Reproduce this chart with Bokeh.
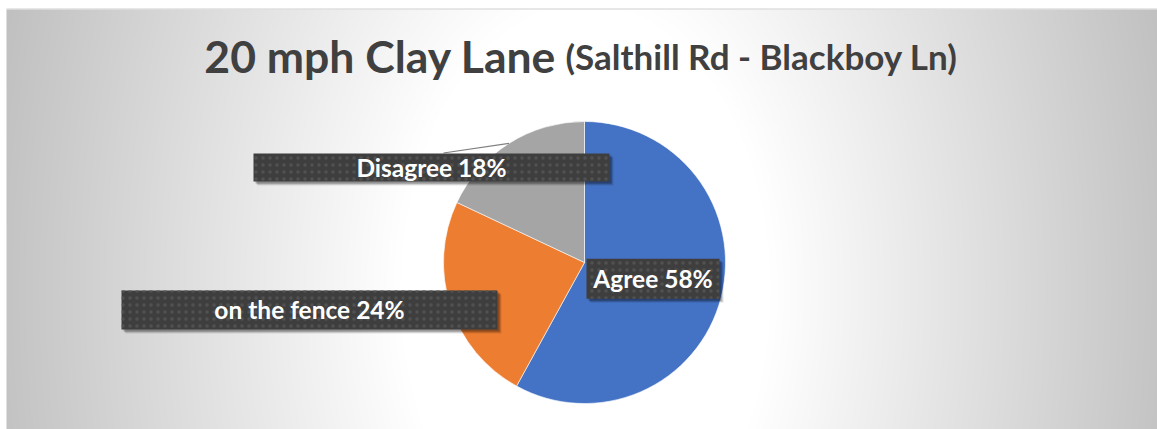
import numpy as np
from bokeh.plotting import figure
from bokeh.models import Range1d, ColumnDataSource
from bokeh.core.properties import value
from bokeh.embed import file_html
from bokeh.resources import INLINE

# ---- data ----
categories = ["Agree", "on the fence", "Disagree"]
percent = [58, 24, 18]
colors = ["#4472C4", "#ED7D31", "#A5A5A5"]
title_main = "20 mph Clay Lane"
title_sub = "(Salthill Rd - Blackboy Ln)"

# ---- layout (page pixel coords; data y = PAGE_H - page y) ----
W, H = 1157, 429
PAGE_H = 429

def py(y):
    return PAGE_H - y

p = figure(width=W, height=H, x_range=Range1d(0, W), y_range=Range1d(0, H),
           output_backend="svg", toolbar_location=None,
           x_axis_location=None, y_axis_location=None,
           min_border=0, outline_line_color=None)
p.grid.visible = False
p.background_fill_color = "white"
p.border_fill_color = "white"

# ---- background radial gradient (panel from page x=6, y=9) ----
PX0, PY0 = 6, 9
PW, PH = W - PX0, H - PY0
xs = np.arange(PW) + PX0 + 0.5
ys_page = PAGE_H - (np.arange(PH) + 0.5)   # row 0 = bottom
XX, YY = np.meshgrid(xs, ys_page)
r = np.hypot((XX - 585) / 580.0, (YY - 290) / 900.0)
t = np.clip((r - 0.32) / 0.68, 0, 1.12)
g = np.clip(255 - 59 * t, 0, 255).astype(np.uint8)
img = np.empty((PH, PW), dtype=np.uint32)
view = img.view(dtype=np.uint8).reshape((PH, PW, 4))
view[..., 0] = g
view[..., 1] = g
view[..., 2] = g
view[..., 3] = 255
p.image_rgba(image=[img], x=PX0, y=0, dw=PW, dh=PH)
p.line(x=[PX0, W], y=[py(8.5), py(8.5)], line_color="#cfcfcf", line_width=1)

# ---- pie ----
cx, cy, R = 584, py(262), 141
frac = np.array(percent, dtype=float) / sum(percent)
cum = np.concatenate([[0], np.cumsum(frac)])
start = np.pi / 2 - 2 * np.pi * cum[:-1]
end = np.pi / 2 - 2 * np.pi * cum[1:]
src = ColumnDataSource(dict(start=start, end=end, color=colors, cat=categories))
p.wedge(x=cx, y=cy, radius=R, start_angle="start", end_angle="end",
        direction="clock", fill_color="color", line_color="white",
        line_width=0.6, source=src)

# leader line for Disagree (from slice mid-angle on the rim to label box)
mid = (cum[2] + cum[3]) / 2
ang = np.pi / 2 - 2 * np.pi * mid
lx, ly = cx + R * np.cos(ang), cy + R * np.sin(ang)
p.line(x=[443, lx], y=[py(152.5), ly], line_color="#7f7f7f", line_width=1.2)

# ---- data labels ----
labels = [f"{c} {v}%" for c, v in zip(categories, percent)]
box_cx = [652.5, 309, 431]
box_cy = [py(278.3), py(309.5), py(167)]
box_w = [133, 376, 356]
box_h = [40, 39, 28]
LBL = 24.5
TSHIFT = 0.36  # baseline correction (fraction of font size)
txt_y = [py(b - TSHIFT * LBL) for b in (287.3, 317.5, 175.7)]

for off, a in [(4, 0.10), (3, 0.16), (2, 0.22)]:
    p.rect(x=[v + off for v in box_cx], y=[v - off for v in box_cy],
           width=box_w, height=box_h, fill_color="black", fill_alpha=a,
           line_color=None)
p.rect(x=box_cx, y=box_cy, width=box_w, height=box_h, fill_color="#3e3e3e",
       line_color=None, hatch_pattern="dot", hatch_color="#515151",
       hatch_scale=7, hatch_weight=1.5)
p.text(x=box_cx, y=txt_y, text=labels, text_align="center",
       text_baseline="alphabetic", text_color="white",
       text_font=value("Lato"), text_font_style="bold",
       text_font_size=value(f"{LBL}px"))

# ---- title ----
T1, T2 = 44.5, 35
TB = 71.5
p.text(x=[556], y=[py(TB - TSHIFT * T1)], text=[title_main], text_align="right",
       text_baseline="alphabetic", text_color="#404040",
       text_font=value("Lato"), text_font_style="bold",
       text_font_size=value(f"{T1}px"))
p.text(x=[565], y=[py(TB - TSHIFT * T1)], text=[title_sub], text_align="left",
       text_baseline="alphabetic", text_color="#404040",
       text_font=value("Lato"), text_font_style="bold",
       text_font_size=value(f"{T2}px"))

open("out.html", "w").write(file_html(p, INLINE))
